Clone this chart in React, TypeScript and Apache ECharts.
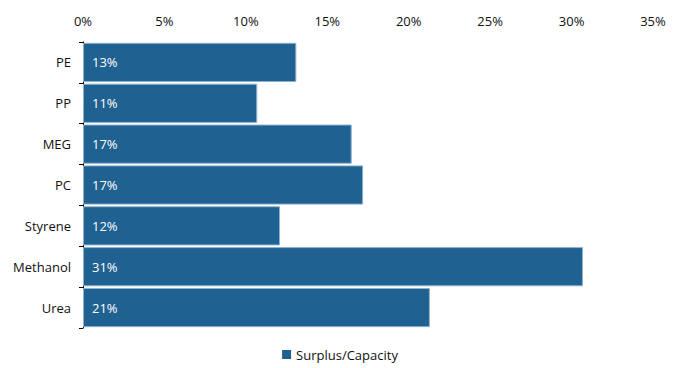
import React, { useEffect, useRef } from "react";
import * as echarts from "echarts";

const categories = ["PE", "PP", "MEG", "PC", "Styrene", "Methanol", "Urea"];
const surplusCapacity = [13.1, 10.7, 16.5, 17.2, 12.1, 30.7, 21.3];
const seriesName = "Surplus/Capacity";

export default function App() {
  const ref = useRef<HTMLDivElement>(null);
  useEffect(() => {
    if (!ref.current) return;
    const chart = echarts.init(ref.current, undefined, { renderer: "svg" });
    const font = "'Open Sans', 'Noto Sans', sans-serif";
    chart.setOption({
      animation: false,
      textStyle: { fontFamily: font },
      grid: { left: 83, right: 27, top: 42, bottom: 40, containLabel: false },
      legend: {
        bottom: 2,
        left: "center",
        itemWidth: 9,
        itemHeight: 9,
        itemGap: 6,
        icon: "rect",
        itemStyle: { borderWidth: 0 },
        textStyle: { fontSize: 13, color: "#111", fontFamily: font },
        data: [seriesName],
      },
      xAxis: {
        type: "value",
        position: "top",
        min: 0,
        max: 35,
        interval: 5,
        axisLine: { show: false },
        axisTick: { show: false },
        splitLine: { show: false },
        axisLabel: {
          formatter: (v: number) => `${v}%`,
          fontSize: 13,
          color: "#111",
          margin: 15,
          fontFamily: font,
        },
      },
      yAxis: {
        type: "category",
        data: categories,
        inverse: true,
        axisLine: { show: true, lineStyle: { color: "#000", width: 1 } },
        axisTick: { show: true, length: 4, lineStyle: { color: "#000" } },
        axisLabel: { fontSize: 13, color: "#111", margin: 12, fontFamily: font },
      },
      series: [
        {
          name: seriesName,
          type: "bar",
          data: surplusCapacity,
          barCategoryGap: "4%",
          itemStyle: { color: "#1f6191", borderColor: "#8fb2cf", borderWidth: 1 },
          label: {
            show: true,
            position: "insideLeft",
            distance: 9,
            color: "#fff",
            fontSize: 13,
            fontFamily: font,
            formatter: (p: any) => `${Math.round(p.value)}%`,
          },
        },
      ],
    });
    return () => chart.dispose();
  }, []);
  return <div ref={ref} style={{ width: 680, height: 368, position: "absolute", left: 0, top: 0 }} />;
}
